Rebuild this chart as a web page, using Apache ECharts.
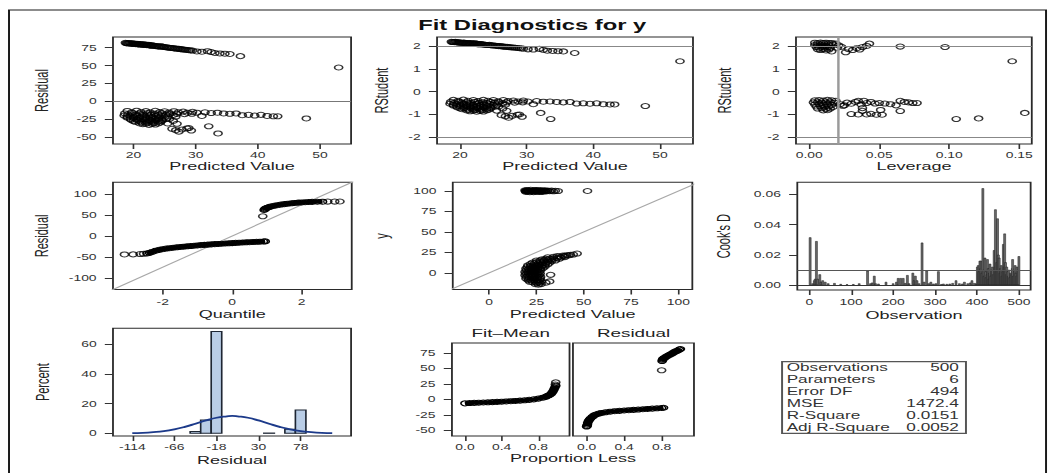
<!DOCTYPE html>
<html><head><meta charset="utf-8">
<script src="https://cdn.jsdelivr.net/npm/echarts@6/dist/echarts.min.js"></script>
<style>
html,body{margin:0;padding:0;background:#fff;overflow:hidden;}
#wrap{width:1048px;height:473px;overflow:hidden;position:relative;background:#fff;}
#chart{width:640px;height:473px;transform:scale(1.6375,1);transform-origin:0 0;}
</style></head><body>
<div id="wrap"><div id="chart"></div></div>
<script>
// ---------------- DATA ----------------
const titleText = 'Fit Diagnostics for y';

// Panel 1: Residual vs Predicted Value
const residualUpper = [[18.7,81.8],[19.0,81.2],[19.3,81.6],[19.6,80.7],[19.9,81.1],[20.2,80.2],[20.5,80.6],[20.8,79.7],[21.1,80.1],[21.4,79.3],[21.7,79.8],[22.0,78.8],[22.3,79.2],[22.6,78.3],[22.9,77.8],[23.2,78.1],[23.6,77.3],[24.0,76.8],[24.4,77.1],[24.8,76.0],[25.3,75.6],[25.8,74.9],[26.3,74.5],[26.8,73.8],[27.3,73.4],[27.8,72.7],[28.3,72.2],[28.9,71.5],[29.5,71.0],[30.2,69.8],[31.0,69.4],[31.9,70.1],[32.5,68.9],[33.1,67.6],[33.9,67.0],[34.7,66.6],[35.5,66.2],[37.2,63.2],[53.0,47.3],
[18.85,81.4],[19.15,80.9],[19.45,81.2],[19.75,80.4],[20.05,80.8],[20.35,79.9],[20.65,80.3],[20.95,79.4],[21.25,79.8],[21.55,79.0],[21.85,79.4],[22.15,78.5],[22.45,78.9],[22.75,77.9],[23.05,78.3],[23.4,77.5],[23.8,77.0],[24.2,76.5],[24.6,76.6],[25.0,75.9],[25.55,75.2],[26.05,74.7],[26.55,74.0],[27.05,73.6],[27.55,73.0],[28.05,72.5],[28.6,71.9],[29.2,71.2]];
const residualLower = [[19.0,-13.5],[20.5,-13.2],[22.0,-13.8],[23.5,-13.4],[25.0,-14.0],[26.5,-13.9],[28.0,-14.5],[29.5,-14.8],
[18.6,-17],[19.8,-16.5],[21.0,-17.2],[22.2,-16.8],[23.4,-17.5],[24.6,-16.9],[25.8,-17.3],[27.0,-17.6],[28.2,-18],[29.4,-17.5],[31.0,-20.5],
[18.5,-20],[19.5,-20.5],[20.5,-19.8],[21.5,-20.6],[22.5,-20.1],[23.5,-21],[24.5,-20.4],[25.5,-21.2],[26.8,-21.5],
[19.0,-23],[20.0,-23.5],[21.0,-23.2],[22.0,-24],[23.0,-23.6],[24.0,-24.3],[25.3,-24.6],
[19.6,-26],[20.6,-26.5],[21.6,-26.2],[22.6,-27],[23.6,-26.7],[24.6,-27.4],
[20.3,-29],[21.3,-29.5],[22.3,-29.8],[23.3,-30.2],[24.3,-29.6],
[21.5,-32],[22.5,-33],[23.5,-32.6],
[19.7,-15.5],[21.2,-15.3],[22.7,-15.6],[24.2,-15.2],[25.7,-15.8],[27.2,-15.5],[28.7,-16],
[19.1,-18.6],[20.3,-18.4],[21.6,-18.8],[22.8,-18.5],[24.0,-19],[25.2,-18.7],[26.4,-19.1],
[19.0,-21.8],[20.0,-22],[21.0,-21.7],[22.0,-22.3],[23.0,-22],[24.0,-22.6],[25.0,-22.4],
[19.5,-24.7],[20.5,-25],[21.5,-24.8],[22.5,-25.4],[23.5,-25.1],[24.5,-25.8],
[20.0,-27.8],[21.0,-28],[22.0,-28.3],[23.0,-28.5],[24.0,-28.1],
[21.0,-31],[22.0,-31.2],[23.0,-31.5],[24.0,-31],
[25.8,-24.5],[26.4,-27.5],[25.5,-31],[26.2,-38.5],[26.8,-40.5],[27.3,-42.5],[27.8,-39.5],[28.6,-38],[29.3,-41],[28.9,-37.5],[27.0,-31.5],[32.1,-35],[33.6,-45],
[30.2,-16],[31.5,-15.5],[32.5,-16.5],[33.5,-16],[34.5,-17],[35.5,-17.5],[36.5,-17],[37.5,-19.5],[38.5,-19],[39.5,-20],[40.5,-19],[41.5,-20.5],[42.5,-21],[43.2,-21],[47.8,-24]];

// Panel 2: RStudent vs Predicted Value
const rstudentUpper = [[18.7,2.18],[19.0,2.17],[19.3,2.18],[19.6,2.15],[19.9,2.16],[20.2,2.13],[20.5,2.15],[20.8,2.12],[21.1,2.13],[21.4,2.11],[21.7,2.12],[22.0,2.10],[22.3,2.11],[22.6,2.08],[22.9,2.07],[23.2,2.08],[23.6,2.06],[24.0,2.04],[24.4,2.05],[24.8,2.02],[25.3,2.01],[25.8,1.99],[26.3,1.98],[26.8,1.96],[27.3,1.95],[27.8,1.93],[28.3,1.92],[28.9,1.90],[29.5,1.88],[30.2,1.85],[31.0,1.84],[31.9,1.87],[32.5,1.83],[33.1,1.79],[33.9,1.78],[34.7,1.77],[35.5,1.76],[37.2,1.69],[53.0,1.33],
[18.85,2.17],[19.15,2.16],[19.45,2.17],[19.75,2.14],[20.05,2.15],[20.35,2.13],[20.65,2.14],[20.95,2.11],[21.25,2.12],[21.55,2.10],[21.85,2.11],[22.15,2.09],[22.45,2.10],[22.75,2.07],[23.05,2.08],[23.4,2.06],[23.8,2.05],[24.2,2.04],[24.6,2.03],[25.0,2.02],[25.55,2.00],[26.05,1.99],[26.55,1.97],[27.05,1.96],[27.55,1.94],[28.05,1.93],[28.6,1.91],[29.2,1.89]];
const rstudentLower = [[19.0,-0.36],[20.5,-0.35],[22.0,-0.37],[23.5,-0.36],[25.0,-0.37],[26.5,-0.37],[28.0,-0.39],[29.5,-0.39],
[18.6,-0.45],[19.8,-0.44],[21.0,-0.46],[22.2,-0.45],[23.4,-0.47],[24.6,-0.45],[25.8,-0.46],[27.0,-0.47],[28.2,-0.48],[29.4,-0.47],[31.0,-0.55],
[18.5,-0.53],[19.5,-0.55],[20.5,-0.53],[21.5,-0.55],[22.5,-0.54],[23.5,-0.56],[24.5,-0.54],[25.5,-0.57],[26.8,-0.57],
[19.0,-0.61],[20.0,-0.63],[21.0,-0.62],[22.0,-0.64],[23.0,-0.63],[24.0,-0.65],[25.3,-0.66],
[19.6,-0.69],[20.6,-0.71],[21.6,-0.70],[22.6,-0.72],[23.6,-0.71],[24.6,-0.73],
[20.3,-0.77],[21.3,-0.79],[22.3,-0.80],[23.3,-0.81],[24.3,-0.79],
[21.5,-0.86],[22.5,-0.88],[23.5,-0.87],
[19.7,-0.40],[21.2,-0.40],[22.7,-0.41],[24.2,-0.40],[25.7,-0.42],[27.2,-0.41],[28.7,-0.43],
[19.1,-0.49],[20.3,-0.48],[21.6,-0.50],[22.8,-0.49],[24.0,-0.50],[25.2,-0.49],[26.4,-0.51],
[19.0,-0.57],[20.0,-0.58],[21.0,-0.57],[22.0,-0.59],[23.0,-0.58],[24.0,-0.60],[25.0,-0.59],
[19.5,-0.65],[20.5,-0.66],[21.5,-0.66],[22.5,-0.67],[23.5,-0.67],[24.5,-0.68],
[20.0,-0.73],[21.0,-0.74],[22.0,-0.75],[23.0,-0.76],[24.0,-0.75],
[21.0,-0.82],[22.0,-0.83],[23.0,-0.84],[24.0,-0.82],
[25.8,-0.65],[26.4,-0.74],[25.5,-0.83],[26.2,-1.03],[26.8,-1.08],[27.3,-1.14],[27.8,-1.06],[28.6,-1.01],[29.3,-1.1],[28.9,-1.0],[27.0,-0.84],[32.1,-0.93],[33.6,-1.2],
[30.2,-0.43],[31.5,-0.41],[32.5,-0.44],[33.5,-0.43],[34.5,-0.45],[35.5,-0.47],[36.5,-0.45],[37.5,-0.52],[38.5,-0.51],[39.5,-0.53],[40.5,-0.51],[41.5,-0.55],[42.5,-0.56],[43.2,-0.56],[47.8,-0.63]];

// Panel 3: RStudent vs Leverage
const leverageUpper = [[0.004,2.14],[0.006,2.12],[0.008,2.15],[0.010,2.13],[0.012,2.14],[0.014,2.12],[0.016,2.13],
[0.004,2.04],[0.006,2.02],[0.008,2.05],[0.010,2.03],[0.012,2.01],[0.014,2.04],[0.017,2.06],
[0.005,1.95],[0.007,1.92],[0.009,1.96],[0.011,1.93],[0.013,1.95],[0.015,1.91],
[0.006,1.85],[0.008,1.82],[0.010,1.86],[0.012,1.80],[0.014,1.84],[0.016,1.76],
[0.019,2.10],[0.021,2.02],[0.020,1.92],[0.023,1.96],[0.026,1.72],[0.028,1.86],[0.031,1.82],[0.034,1.90],[0.036,1.84],[0.038,1.95],[0.041,2.00],[0.043,2.10],[0.065,1.97],[0.097,1.95],[0.145,1.33]];
const leverageLower = [[0.004,-0.38],[0.007,-0.37],[0.010,-0.39],[0.013,-0.36],[0.016,-0.38],[0.019,-0.40],
[0.003,-0.47],[0.006,-0.46],[0.009,-0.48],[0.012,-0.47],[0.015,-0.46],[0.018,-0.49],
[0.004,-0.56],[0.007,-0.55],[0.010,-0.57],[0.013,-0.56],[0.016,-0.58],
[0.005,-0.65],[0.008,-0.64],[0.011,-0.66],[0.014,-0.65],[0.017,-0.67],
[0.006,-0.74],[0.009,-0.73],[0.012,-0.75],[0.015,-0.74],
[0.010,-0.82],[0.013,-0.81],
[0.022,-0.55],[0.025,-0.60],[0.027,-0.48],[0.030,-0.53],[0.033,-0.45],[0.035,-0.40],[0.037,-0.56],[0.039,-0.40],[0.041,-0.50],[0.044,-0.45],[0.047,-0.52],[0.050,-0.50],[0.054,-0.52],[0.058,-0.55],[0.062,-0.60],[0.065,-0.40],[0.068,-0.45],[0.071,-0.47],[0.074,-0.50],[0.077,-0.50],[0.024,-0.62],
[0.030,-0.98],[0.035,-1.00],[0.038,-0.72],[0.038,-0.84],[0.041,-1.00],[0.044,-0.97],[0.048,-1.01],[0.051,-0.80],[0.052,-1.01],[0.065,-0.85],[0.105,-1.20],[0.121,-1.17],[0.154,-0.93]];

// Panel 4: Residual vs normal Quantile
const qqLowTail = [[-3.1,-44],[-2.85,-43.8],[-2.65,-43],[-2.55,-42.5]];
const qqLow = [[-2.45,-41.5],[-2.38,-40],[-2.3,-38],[-2.2,-35],[-2.1,-33],[-2.0,-31.5],[-1.9,-30],[-1.8,-29],[-1.7,-28],[-1.6,-27],[-1.5,-26.2],[-1.4,-25.4],[-1.3,-24.6],[-1.2,-23.9],[-1.1,-23.2],[-1.0,-22.5],[-0.9,-21.8],[-0.8,-21.2],[-0.7,-20.6],[-0.6,-20],[-0.5,-19.4],[-0.4,-18.9],[-0.3,-18.4],[-0.2,-17.9],[-0.1,-17.4],[0,-16.9],[0.1,-16.4],[0.2,-16],[0.3,-15.5],[0.4,-15.1],[0.5,-14.7],[0.6,-14.3],[0.7,-13.9],[0.8,-13.5],[0.9,-13.1],[0.95,-12.8]];
const qqHigh = [[0.92,62],[0.94,64],[0.96,65.5],[1.0,67],[1.05,68.5],[1.1,70],[1.2,72],[1.3,73.5],[1.4,75],[1.5,76],[1.6,77],[1.7,78],[1.8,78.8],[1.9,79.5],[2.0,80],[2.1,80.5],[2.2,81],[2.3,81.3],[2.45,81.6],[2.6,81.8]];
const qqHighTail = [[0.88,47],[2.75,82],[2.95,82],[3.1,82.2]];
const qqReference = [[-3.5,-130.2],[3.5,130.2]];

// Panel 5: y vs Predicted Value
const observedUpper = [[19.0,100.8],[19.5,98.8],[20.0,101.2],[20.5,99.2],[21.0,100.5],[21.5,98.5],[22.0,101.5],[22.5,99.5],[23.0,100.2],[23.5,98.6],[24.0,101.0],[24.5,99.4],[25.0,100.6],[25.5,98.9],[26.0,101.3],[26.5,99.6],[27.0,100.3],[27.5,98.7],[28.0,100.9],[28.7,99.3],[29.4,100.7],[30.2,99.5],[31.0,100.4],[32.0,99.8],[33.0,100.5],[34.0,99.6],[35.0,100.2],[36.5,99.9],[52.0,100],
[19.25,99.8],[19.75,100.1],[20.25,99.9],[20.75,100.2],[21.25,99.7],[21.75,100.3],[22.25,99.8],[22.75,100.0],[23.25,99.6],[23.75,100.4],[24.25,99.9],[24.75,100.1],[25.25,99.7],[25.75,100.3],[26.25,99.8],[26.75,100.0],[27.25,99.6],[27.75,100.2],[28.35,100.0],[29.0,99.9],[29.8,100.1]];
const observedLower = [[24.5,-14],[26,-14.5],[27.5,-13.8],
[21.5,-11],[23,-11.5],[24.5,-10.8],[26,-11.2],[27.5,-10.5],
[19.5,-7],[21,-7.5],[22.5,-6.8],[24,-7.2],[25.5,-6.5],[27,-7],
[19,-3],[20.5,-3.5],[22,-2.8],[23.5,-3.2],[25,-2.6],[26.5,-3],
[19,1],[20.5,0.5],[22,1.2],[23.5,0.8],[25,1.5],[26.5,1],
[19.5,5],[21,4.5],[22.5,5.2],[24,4.8],[25.5,5.5],[27,5],[28.5,5.8],
[20.5,9],[22,8.5],[23.5,9.2],[25,8.8],[26.5,9.5],[28,9.2],[29.5,9.8],[31,10.3],
[23,12.5],[25,13],[27,13.2],[29,13.5],[31,13.8],[33,14.2],[35,15],
[28,16.5],[30,17],[32,17.2],[34,17.6],[36,18],[38,18.6],[40,19.2],
[36,20.5],[39,21],[41,21.5],[43,22],[44.5,22.3],[46.5,23.5],
[25.2,-12.5],[26.8,-12.2],
[20.7,-9],[22.2,-9.2],[23.7,-8.8],[25.2,-9.1],[26.7,-8.7],
[19.7,-5],[21.2,-5.2],[22.7,-4.8],[24.2,-5.1],[25.7,-4.7],[27.2,-5],
[19.5,-1],[21,-1.2],[22.5,-0.8],[24,-1.1],[25.5,-0.7],[27,-1],
[19.7,3],[21.2,2.8],[22.7,3.2],[24.2,2.9],[25.7,3.3],[27.2,3.1],
[20.2,7],[21.7,6.8],[23.2,7.2],[24.7,6.9],[26.2,7.3],[27.7,7.1],[29.5,7.6],
[22,11],[24,11.2],[26,11.3],[28,11.6],[30,11.9],[32,12.4],
[25,15],[27,15.2],[29,15.4],[31,15.8],[33,16.2],[37,17],
[31,19],[34,19.5],[37,19.8],[40,20.6],[42,21.2],
[32.5,-2.5],[32,-10.5],[30,-12]];
const identityLine = [[-25,-25],[115,115]];

// Panel 6: Cook's D vs Observation
const cooksD = [[2,0.0315],[8,0.001],[12,0.003],[14,0.004],[17,0.029],[20,0.004],[25,0.007],[28,0.002],[32,0.003],[38,0.002],[45,0.001],[60,0.0012],[75,0.0006],[90,0.0004],[105,0.0005],[119,0.001],[139,0.0094],[146,0.001],[150,0.0015],[155,0.006],[158,0.001],[165,0.0008],[183,0.002],[200,0.001],[208,0.002],[212,0.0045],[218,0.0045],[224,0.0045],[229,0.0012],[234,0.0065],[238,0.001],[247,0.008],[250,0.003],[253,0.006],[257,0.003],[262,0.001],[269,0.028],[274,0.002],[280,0.0095],[285,0.001],[290,0.002],[296,0.0008],[302,0.001],[308,0.009],[315,0.0005],[320,0.0008],[328,0.0006],[335,0.0008],[342,0.0012],[350,0.003],[358,0.001],[365,0.0008],[370,0.002],[378,0.001],[384,0.0015],[388,0.003],[394,0.0012],[398,0.0008],
[401,0.012],[403,0.013],[405,0.009],[407,0.016],[409,0.011],[410,0.016],[412,0.008],[414,0.064],[416,0.010],[417,0.006],[419,0.018],[421,0.009],[422,0.005],[424,0.007],[425,0.017],[427,0.011],[428,0.004],[430,0.008],[431,0.014],[433,0.006],[435,0.010],[437,0.012],[439,0.007],[441,0.023],[443,0.012],[444,0.050],[446,0.009],[447,0.015],[449,0.044],[451,0.020],[453,0.018],[455,0.008],[456,0.011],[458,0.013],[460,0.006],[461,0.009],[463,0.027],[465,0.012],[466,0.034],[468,0.015],[470,0.007],[471,0.012],[473,0.009],[475,0.006],[476,0.010],[478,0.005],[480,0.008],[482,0.007],[484,0.011],[485,0.017],[487,0.006],[489,0.009],[491,0.013],[493,0.008],[495,0.006],[496,0.012],[498,0.010],[500,0.019]];
const cooksCutoff = 0.008;

// Panel 7: residual histogram (bin centers, bin width, percents) + normal curve
const histBinCenters = [-42,-30,-18,42,66,78];
const histBinWidth = 12;
const histPercents = [1.2,9.0,68.6,0.2,2.8,15.8];
const normalCurve = [[-114,0.15],[-102,0.35],[-90,0.8],[-78,1.5],[-66,2.7],[-54,4.4],[-42,6.5],[-30,8.7],[-18,10.5],[-6,11.5],[0,11.8],[6,11.5],[18,10.5],[30,8.7],[42,6.5],[54,4.4],[66,2.7],[78,1.5],[90,0.8],[102,0.35],[114,0.15]];

// Panel 8: residual-fit spread
const fitMeanSpread = [[0.0,-6.5],[0.05,-6],[0.1,-5.7],[0.15,-5.4],[0.2,-5.1],[0.25,-4.8],[0.3,-4.5],[0.35,-4.1],[0.4,-3.8],[0.45,-3.4],[0.5,-3.0],[0.55,-2.6],[0.6,-2.1],[0.65,-1.5],[0.7,-0.8],[0.75,0],[0.8,1.2],[0.85,2.7],[0.88,4],[0.9,5.5],[0.92,7],[0.94,9],[0.95,11],[0.96,13],[0.97,16],[0.98,19],[0.99,22]];
const fitMeanTop = [[0.985,24],[0.99,27.5]];
const residSpreadLow = [[0,-44],[0.004,-43],[0.008,-41],[0.012,-38],[0.02,-35],[0.03,-33],[0.04,-31],[0.06,-28.5],[0.08,-26],[0.1,-24.5],[0.13,-23],[0.16,-22],[0.2,-21],[0.25,-20],[0.3,-19.2],[0.35,-18.6],[0.4,-18],[0.45,-17.5],[0.5,-17],[0.55,-16.5],[0.6,-16],[0.65,-15.5],[0.7,-15],[0.75,-14.5],[0.8,-14],[0.82,-13.6]];
const residSpreadHigh = [[0.805,62],[0.81,64],[0.815,65.5],[0.83,67],[0.85,69],[0.87,71],[0.89,72.5],[0.91,74],[0.93,76],[0.95,77.5],[0.97,79],[0.99,80.5],[1.0,81.5]];
const residSpreadOutlier = [[0.8,47]];

// Fit statistics table
const statLabels = ['Observations','Parameters','Error DF','MSE','R-Square','Adj R-Square'];
const statValues = ['500','6','494','1472.4','0.0151','0.0052'];

// Tick values
const predTicks = [20,30,40,50];
const residTicks = [-50,-25,0,25,50,75];
const rstudTicks = [-2,-1,0,1,2];
const levTicks = [0,0.05,0.10,0.15];
const quantTicks = [-2,0,2];
const qqResidTicks = [-100,-50,0,50,100];
const yValueTicks = [0,25,50,75,100];
const predWideTicks = [0,25,50,75,100];
const cookTicks = [0,0.02,0.04,0.06];
const obsTicks = [0,100,200,300,400,500];
const histTicks = [-114,-66,-18,30,78];
const pctTicks = [0,20,40,60];
const propTicks = [0,0.4,0.8];
const spreadTicks = [-50,-25,0,25,50,75];

// ---------------- CHART ----------------
const FONT = "'Liberation Sans', Arial, sans-serif";
const INK = '#222';
const LBL = 8.5;
const chart = echarts.init(document.getElementById('chart'), null, {renderer:'svg', width:640, height:473});

const gridBoxes = [
  [69.0, 37, 145.4, 107],
  [266.9, 37, 156.3, 107],
  [486.1, 37, 144.0, 107],
  [69.0, 182.3, 145.8, 107.2],
  [276.5, 182.3, 146.3, 107.2],
  [486.9, 182.3, 142.5, 107.7],
  [69.0, 328.3, 145.4, 107.7],
  [276.0, 343, 71.8, 93],
  [349.9, 343, 73.9, 93]
];
const grid = gridBoxes.map(b => ({left:b[0], top:b[1], width:b[2], height:b[3], show:true, borderColor:'#2a2a2a', borderWidth:1.1, backgroundColor:'rgba(0,0,0,0)', containLabel:false, outerBoundsMode:'none'}));

const xAxis = [], yAxis = [];
function fmt(d){ return d == null ? (v => String(v)) : (v => Number(v).toFixed(d)); }
function addAxes(i, o){
  xAxis.push({gridIndex:i, type:'value', position:'bottom', min:o.x[0], max:o.x[1],
    name:o.xName||'', nameLocation:'middle', nameGap:o.xGap||17,
    nameTextStyle:{fontSize:11, color:INK, fontFamily:FONT},
    axisLine:{show:false, onZero:false},
    axisTick:{show:true, length:5, customValues:o.xT, lineStyle:{color:'#333', width:1}},
    axisLabel:{show:true, customValues:o.xT, formatter:fmt(o.xD), fontSize:LBL, color:'#333', margin:o.xM||7, fontFamily:FONT},
    splitLine:{show:false}});
  const showY = o.yT && o.yT.length;
  yAxis.push({gridIndex:i, type:'value', position:'left', min:o.y[0], max:o.y[1],
    name:o.yName||'', nameLocation:'middle', nameGap:o.yGap||38,
    nameTextStyle:{fontSize:11, color:INK, fontFamily:FONT},
    axisLine:{show:false, onZero:false},
    axisTick:{show:!!showY, length:5, customValues:o.yT||[], lineStyle:{color:'#333', width:1}},
    axisLabel:{show:!!showY, customValues:o.yT||[], formatter:fmt(o.yD), fontSize:LBL, color:'#333', margin:10, fontFamily:FONT},
    splitLine:{show:false}});
}
addAxes(0,{x:[16.7,55], xT:predTicks, xName:'Predicted Value', xGap:16, y:[-59.8,90], yT:residTicks, yName:'Residual', yGap:38});
addAxes(1,{x:[16.55,54.95], xT:predTicks, xName:'Predicted Value', xGap:16, y:[-2.29,2.39], yT:rstudTicks, yName:'RStudent', yGap:28.5});
addAxes(2,{x:[-0.0095,0.159], xT:levTicks, xD:2, xName:'Leverage', xGap:16, y:[-2.29,2.39], yT:rstudTicks, yName:'RStudent', yGap:38});
addAxes(3,{x:[-3.43,3.44], xT:quantTicks, xName:'Quantile', xGap:19, xM:8, y:[-127.5,128], yT:qqResidTicks, yName:'Residual', yGap:38});
addAxes(4,{x:[-19.2,107.4], xT:predWideTicks, xName:'Predicted Value', xGap:19, xM:8, y:[-20.4,110.6], yT:yValueTicks, yName:'y', yGap:38});
addAxes(5,{x:[-28.6,528], xT:obsTicks, xName:'Observation', xGap:19, xM:8, y:[-0.0033,0.068], yT:cookTicks, yD:2, yName:"Cook's D", yGap:39.7});
addAxes(6,{x:[-136,135.5], xT:histTicks, xName:'Residual', xGap:18, y:[-1.8,70.8], yT:pctTicks, yName:'Percent', yGap:37.7});
addAxes(7,{x:[-0.142,1.14], xT:propTicks, xD:1, y:[-59.3,91.2], yT:spreadTicks});
addAxes(8,{x:[-0.146,1.145], xT:propTicks, xD:1, y:[-59.3,91.2], yT:[]});

const ring = {color:'rgba(0,0,0,0)', borderColor:'#000', borderWidth:1};
function scatter(i, data, size){ return {type:'scatter', xAxisIndex:i, yAxisIndex:i, data, symbol:'circle', symbolSize:size||5, itemStyle:ring, silent:true}; }
function band(i, data){ return {type:'line', xAxisIndex:i, yAxisIndex:i, data, symbol:'circle', symbolSize:5, showSymbol:true, itemStyle:ring, lineStyle:{color:'#000', width:4}, silent:true}; }
function refLine(i, data, color, w){ return {type:'line', xAxisIndex:i, yAxisIndex:i, data, symbol:'none', lineStyle:{color, width:w}, silent:true, clip:true, z:1}; }
function hLines(values, color, w){ return {silent:true, symbol:'none', label:{show:false}, lineStyle:{type:'solid', color, width:w}, data:values.map(v => ({yAxis:v}))}; }

const series = [
  Object.assign(scatter(0, residualUpper), {markLine:hLines([0], '#777', 0.8)}),
  scatter(0, residualLower),
  Object.assign(scatter(1, rstudentUpper), {markLine:hLines([-2,2], '#888', 0.8)}),
  scatter(1, rstudentLower),
  Object.assign(scatter(2, leverageUpper), {markLine:{silent:true, symbol:'none', label:{show:false}, data:[{yAxis:-2, lineStyle:{type:'solid', color:'#888', width:0.8}},{yAxis:2, lineStyle:{type:'solid', color:'#888', width:0.8}},{xAxis:0.024, lineStyle:{type:'solid', color:'#9a9a9a', width:1.5}}]}}),
  scatter(2, leverageLower),
  refLine(3, qqReference, '#a8a8a8', 1),
  band(3, qqLow), band(3, qqHigh), scatter(3, qqLowTail), scatter(3, qqHighTail),
  refLine(4, identityLine, '#a8a8a8', 1),
  scatter(4, observedUpper), scatter(4, observedLower),
  {type:'bar', xAxisIndex:5, yAxisIndex:5, data:cooksD, barWidth:1.6, itemStyle:{color:'#6a6a6a', borderColor:'#1a1a1a', borderWidth:0.4}, silent:true,
    markLine:{silent:true, symbol:'none', label:{show:false}, data:[{yAxis:0, lineStyle:{type:'solid', color:'#333', width:1}},{yAxis:cooksCutoff, lineStyle:{type:'solid', color:'#555', width:0.8}}]}},
  {type:'custom', xAxisIndex:6, yAxisIndex:6, silent:true,
    data: histBinCenters.map((c,k) => [c - histBinWidth/2, c + histBinWidth/2, histPercents[k]]),
    renderItem: function(params, api){
      const p0 = api.coord([api.value(0), api.value(2)]);
      const p1 = api.coord([api.value(1), 0]);
      return {type:'rect', shape:{x:p0[0], y:p0[1], width:p1[0]-p0[0], height:p1[1]-p0[1]}, style:{fill:'#b9cde6', stroke:'#1e2633', lineWidth:1}};
    }},
  {type:'line', xAxisIndex:6, yAxisIndex:6, data:normalCurve, smooth:true, symbol:'none', lineStyle:{color:'#1c3a8a', width:1.8}, silent:true, z:5},
  band(7, fitMeanSpread), scatter(7, fitMeanTop),
  band(8, residSpreadLow), band(8, residSpreadHigh), scatter(8, residSpreadOutlier)
];

const rowH = (433.3 - 361.7) / statLabels.length;
const graphic = [
  {type:'rect', shape:{x:5.5, y:10, width:633.3, height:480}, style:{fill:'none', stroke:'#1a1a1a', lineWidth:1.2}, silent:true},
  {type:'text', x:325, y:25, style:{text:titleText, font:'bold 14.5px ' + FONT, fill:'#111', align:'center', verticalAlign:'middle'}, silent:true},
  {type:'text', x:311.9, y:333.3, style:{text:'Fit–Mean', font:'11.5px ' + FONT, fill:INK, align:'center', verticalAlign:'middle'}, silent:true},
  {type:'text', x:386.9, y:333.3, style:{text:'Residual', font:'11.5px ' + FONT, fill:INK, align:'center', verticalAlign:'middle'}, silent:true},
  {type:'text', x:349.9, y:458.3, style:{text:'Proportion Less', font:'11px ' + FONT, fill:INK, align:'center', verticalAlign:'middle'}, silent:true},
  {type:'rect', shape:{x:477.6, y:361.7, width:112.3, height:71.6}, style:{fill:'#fff', stroke:'#555', lineWidth:1.2}, silent:true}
];
statLabels.forEach((lab, k) => {
  const yy = 361.7 + rowH * (k + 0.5);
  graphic.push({type:'text', x:480.4, y:yy, style:{text:lab, font:'10.5px ' + FONT, fill:'#333', align:'left', verticalAlign:'middle'}, silent:true});
  graphic.push({type:'text', x:585.6, y:yy, style:{text:statValues[k], font:'10.5px ' + FONT, fill:'#333', align:'right', verticalAlign:'middle'}, silent:true});
});

chart.setOption({
  animation:false,
  backgroundColor:'#fff',
  textStyle:{fontFamily:FONT},
  grid, xAxis, yAxis, series, graphic
});
</script></body></html>
